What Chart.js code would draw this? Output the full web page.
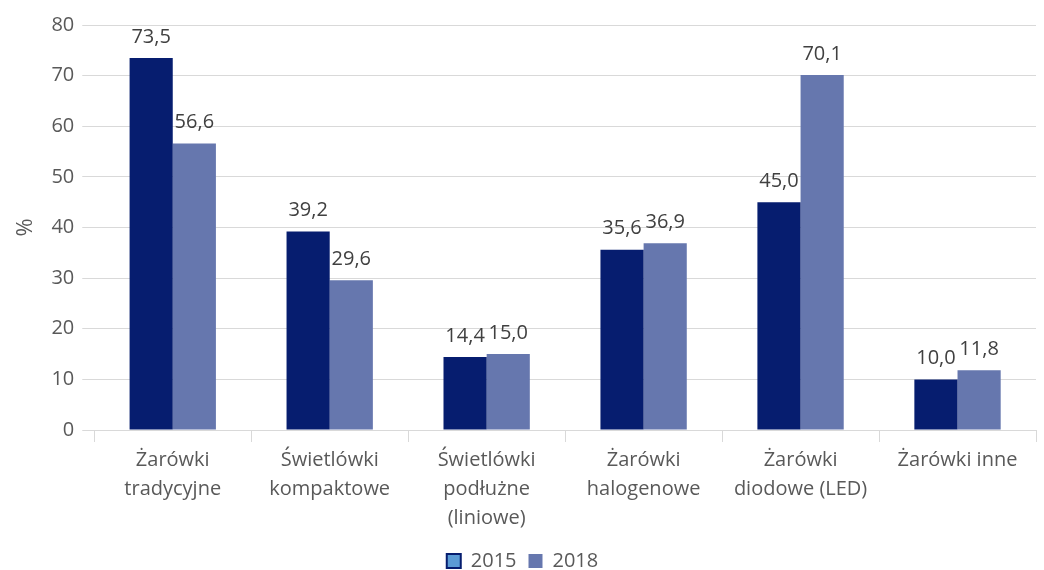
<!DOCTYPE html>
<html><head><meta charset="utf-8">
<script src="https://cdn.jsdelivr.net/npm/chart.js@4/dist/chart.umd.min.js"></script>
<style>html,body{margin:0;padding:0;background:#fff}#wrap{width:1044px;height:570px}</style>
</head><body><div id="wrap"><canvas id="c" width="1044" height="570"></canvas></div>
<script>
const categories = [["Żarówki","tradycyjne"],["Świetlówki","kompaktowe"],["Świetlówki","podłużne","(liniowe)"],["Żarówki","halogenowe"],["Żarówki","diodowe (LED)"],["Żarówki inne"]];
const seriesNames = ["2015","2018"];
const values2015 = [73.5,39.2,14.4,35.6,45.0,10.0];
const values2018 = [56.6,29.6,15.0,36.9,70.1,11.8];
const yTicks = [0,10,20,30,40,50,60,70,80];

const FONT = "'Open Sans', 'Noto Sans', sans-serif";
const labelPlugin = {
  id:'valueLabels',
  afterDatasetsDraw(chart){
    const ctx = chart.ctx;
    ctx.save();
    ctx.font = "20px " + FONT;
    ctx.fillStyle = "#404040";
    ctx.textAlign = "center";
    ctx.textBaseline = "bottom";
    chart.data.datasets.forEach((ds,i)=>{
      chart.getDatasetMeta(i).data.forEach((bar,j)=>{
        ctx.fillText(ds.data[j].toFixed(1).replace('.',','), bar.x, bar.y - 11);
      });
    });
    ctx.restore();
  }
};

new Chart(document.getElementById('c'),{
  type:'bar',
  data:{labels:categories,datasets:[
    {label:seriesNames[0],data:values2015,backgroundColor:'#061d6f'},
    {label:seriesNames[1],data:values2018,backgroundColor:'#6677ae'}
  ]},
  options:{
    responsive:false,animation:false,
    layout:{padding:{top:25,right:8,left:9,bottom:-11}},
    datasets:{bar:{categoryPercentage:0.55,barPercentage:1}},
    plugins:{
      tooltip:{enabled:false},
      legend:{position:'bottom',
        labels:{font:{size:20,family:FONT},color:'#595959',boxWidth:14,boxHeight:14,padding:12,
          generateLabels(chart){
            return [
              {text:seriesNames[0],fillStyle:'#5b9bd5',strokeStyle:'#061d6f',lineWidth:2,datasetIndex:0,fontColor:'#595959'},
              {text:seriesNames[1],fillStyle:'#6677ae',strokeStyle:'#6677ae',lineWidth:0,datasetIndex:1,fontColor:'#595959'}
            ];
          }}}
    },
    scales:{
      x:{grid:{display:true,drawOnChartArea:false,drawTicks:true,tickLength:12,color:'#d9d9d9',offset:true},
         border:{color:'#d9d9d9'},
         afterFit(s){ s.height = 109; },
         ticks:{font:{size:20,family:FONT,lineHeight:1.45},color:'#595959',maxRotation:0,autoSkip:false,padding:4}},
      y:{min:0,max:80,
         afterBuildTicks(s){s.ticks=yTicks.map(v=>({value:v}));},
         grid:{color:'#d9d9d9',tickLength:12},
         border:{display:false},
         title:{display:true,text:'%',font:{size:22,family:FONT},color:'#595959',padding:{bottom:4}},
         ticks:{font:{size:20,family:FONT},color:'#595959',padding:8}}
    }
  },
  plugins:[labelPlugin]
});
</script></body></html>
